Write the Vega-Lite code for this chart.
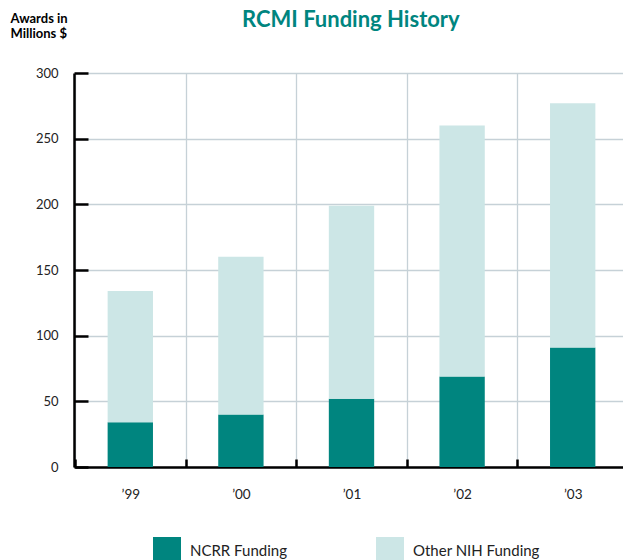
{
  "$schema": "https://vega.github.io/schema/vega-lite/v6.json",
  "width": 549,
  "height": 394,
  "autosize": "none",
  "padding": {"left": 74, "top": 73, "right": 0, "bottom": 93},
  "background": "white",
  "config": {
    "font": "Lato",
    "view": {"stroke": null}
  },
  "title": {
    "text": "RCMI Funding History",
    "color": "#00857f",
    "fontSize": 22,
    "fontWeight": "bold",
    "font": "Lato",
    "anchor": "start",
    "dx": 232,
    "offset": -20
  },
  "data": {
    "values": [
      {"year": "’99", "type": "NCRR Funding", "value": 34},
      {"year": "’99", "type": "Other NIH Funding", "value": 100},
      {"year": "’00", "type": "NCRR Funding", "value": 40},
      {"year": "’00", "type": "Other NIH Funding", "value": 120},
      {"year": "’01", "type": "NCRR Funding", "value": 52},
      {"year": "’01", "type": "Other NIH Funding", "value": 147},
      {"year": "’02", "type": "NCRR Funding", "value": 69},
      {"year": "’02", "type": "Other NIH Funding", "value": 191},
      {"year": "’03", "type": "NCRR Funding", "value": 91},
      {"year": "’03", "type": "Other NIH Funding", "value": 186}
    ]
  },
  "mark": {"type": "bar", "width": {"band": 0.41}},
  "encoding": {
    "x": {
      "field": "year",
      "type": "nominal",
      "sort": null,
      "scale": {"paddingInner": 0, "paddingOuter": 0, "range": [1, 554]},
      "axis": {
        "title": null,
        "labelAngle": 0,
        "labelFontSize": 13.5,
        "labelColor": "#222",
        "labelPadding": 28,
        "tickBand": "extent",
        "tickSize": -8,
        "tickWidth": 2.5,
        "tickColor": "black",
        "domainColor": "black",
        "domainWidth": 2.5,
        "grid": true,
        "gridColor": "#c6d1d7",
        "gridWidth": 1.3
      }
    },
    "y": {
      "field": "value",
      "type": "quantitative",
      "stack": "zero",
      "scale": {"domain": [0, 300]},
      "axis": {
        "values": [0, 50, 100, 150, 200, 250, 300],
        "title": ["Awards in", "Millions $"],
        "titleAngle": 0,
        "titleAlign": "left",
        "titleBaseline": "top",
        "titleX": -64,
        "titleY": -61,
        "titleFontSize": 13,
        "titleFontWeight": "bold",
        "titleColor": "black",
        "titleLineHeight": 15.5,
        "labelFontSize": 13,
        "labelColor": "#222",
        "labelPadding": 30,
        "tickSize": -14,
        "tickWidth": 2.5,
        "tickColor": "black",
        "domainColor": "black",
        "domainWidth": 2.5,
        "grid": true,
        "gridColor": "#c6d1d7",
        "gridWidth": 1.3
      }
    },
    "color": {
      "field": "type",
      "type": "nominal",
      "scale": {"domain": ["NCRR Funding", "Other NIH Funding"], "range": ["#00857f", "#cce6e6"]},
      "legend": {
        "title": null,
        "orient": "none",
        "legendX": 79,
        "legendY": 464,
        "direction": "horizontal",
        "symbolType": "square",
        "symbolSize": 784,
        "symbolStrokeWidth": 0,
        "symbolOpacity": 1,
        "labelFontSize": 15,
        "labelColor": "#222",
        "labelOffset": 9,
        "columnPadding": 89
      }
    },
    "order": {"field": "type", "sort": "ascending"}
  }
}
